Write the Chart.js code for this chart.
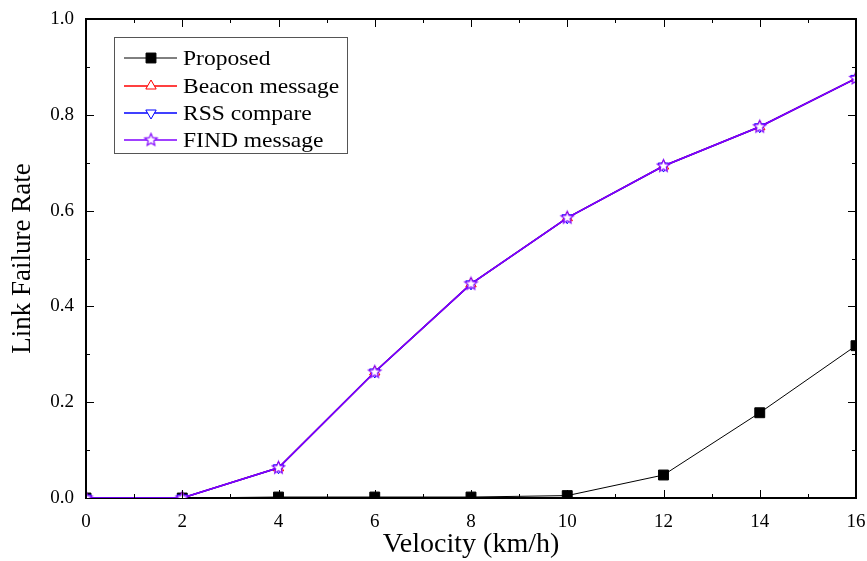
<!DOCTYPE html>
<html>
<head>
<meta charset="utf-8">
<script src="https://cdn.jsdelivr.net/npm/chart.js@4/dist/chart.umd.min.js"></script>
<style>
  html, body { margin: 0; padding: 0; background: #fff; }
  #wrap { width: 867px; height: 561px; }
</style>
</head>
<body>
<div id="wrap"><canvas id="chart" width="867" height="561"></canvas></div>
<script>
// data
const velocity = [0, 2, 4, 6, 8, 10, 12, 14, 16];
const proposed = [0, 0, 0.002, 0.002, 0.002, 0.005, 0.048, 0.178, 0.318];
const beacon   = [0, 0, 0.063, 0.263, 0.447, 0.585, 0.693, 0.775, 0.876];
const rss      = [0, 0, 0.063, 0.263, 0.447, 0.585, 0.693, 0.775, 0.876];
const findMsg  = [0, 0, 0.063, 0.263, 0.447, 0.585, 0.693, 0.775, 0.876];
const seriesNames = ['Proposed', 'Beacon message', 'RSS compare', 'FIND message'];

const FONT = "'Liberation Serif', 'Times New Roman', serif";
Chart.defaults.font.family = FONT;
Chart.defaults.color = '#000';

// 5-point open star used as marker
function makeStar(color, r) {
  const c = document.createElement('canvas');
  const s = Math.ceil(r * 2 + 4);
  c.width = s; c.height = s;
  const g = c.getContext('2d');
  g.beginPath();
  for (let i = 0; i < 10; i++) {
    const rad = i % 2 === 0 ? r : r * 0.45;
    const a = -Math.PI / 2 + i * Math.PI / 5;
    const px = s / 2 + rad * Math.cos(a);
    const py = s / 2 + rad * Math.sin(a);
    if (i === 0) g.moveTo(px, py); else g.lineTo(px, py);
  }
  g.closePath();
  g.fillStyle = '#fff';
  g.fill();
  g.strokeStyle = color;
  g.lineWidth = 1.2;
  g.stroke();
  return c;
}
const starImg = makeStar('#8000ff', 6.5);

function pts(arr) {
  return velocity.map((v, i) => ({ x: v, y: arr[i] }));
}

const datasets = [
  {
    label: seriesNames[0], data: pts(proposed),
    borderColor: '#000', backgroundColor: '#000', borderWidth: 1,
    pointStyle: 'rect', pointRadius: 7, pointBorderWidth: 1,
    pointBackgroundColor: '#000', order: 3
  },
  {
    label: seriesNames[1], data: pts(beacon),
    borderColor: '#ff0000', backgroundColor: '#fff', borderWidth: 1.5,
    pointStyle: 'triangle', pointRadius: 6, pointBorderWidth: 1,
    pointBackgroundColor: '#fff', order: 2
  },
  {
    label: seriesNames[2], data: pts(rss),
    borderColor: '#0000ff', backgroundColor: '#fff', borderWidth: 1.5,
    pointStyle: 'triangle', pointRotation: 180, pointRadius: 6, pointBorderWidth: 1,
    pointBackgroundColor: '#fff', order: 1
  },
  {
    label: seriesNames[3], data: pts(findMsg),
    borderColor: '#8000ff', backgroundColor: '#fff', borderWidth: 1.5,
    pointStyle: starImg, pointRadius: 6, order: 0
  }
];

// inward ticks on all four sides plus top/right frame
const frameTicks = {
  id: 'frameTicks',
  afterDraw(chart) {
    const { ctx, chartArea: a, scales } = chart;
    const xs = scales.x, ys = scales.y;
    ctx.save();
    ctx.strokeStyle = '#000';
    ctx.lineWidth = 2;
    ctx.beginPath();
    ctx.moveTo(a.left, a.top); ctx.lineTo(a.right, a.top); ctx.lineTo(a.right, a.bottom);
    ctx.stroke();
    ctx.lineWidth = 1;
    const major = 8, minor = 4;
    const xt = xs.ticks.map(t => t.value);
    const yt = ys.ticks.map(t => t.value);
    ctx.beginPath();
    xt.forEach((v, i) => {
      const px = Math.round(xs.getPixelForValue(v)) + 0.5;
      ctx.moveTo(px, a.bottom); ctx.lineTo(px, a.bottom - major);
      ctx.moveTo(px, a.top); ctx.lineTo(px, a.top + major);
      if (i < xt.length - 1) {
        const m = Math.round(xs.getPixelForValue((v + xt[i + 1]) / 2)) + 0.5;
        ctx.moveTo(m, a.bottom); ctx.lineTo(m, a.bottom - minor);
        ctx.moveTo(m, a.top); ctx.lineTo(m, a.top + minor);
      }
    });
    yt.forEach((v, i) => {
      const py = Math.round(ys.getPixelForValue(v)) + 0.5;
      ctx.moveTo(a.left, py); ctx.lineTo(a.left + major, py);
      ctx.moveTo(a.right, py); ctx.lineTo(a.right - major, py);
      if (i < yt.length - 1) {
        const m = Math.round(ys.getPixelForValue((v + yt[i + 1]) / 2)) + 0.5;
        ctx.moveTo(a.left, m); ctx.lineTo(a.left + minor, m);
        ctx.moveTo(a.right, m); ctx.lineTo(a.right - minor, m);
      }
    });
    ctx.stroke();
    ctx.restore();
  }
};

// boxed legend inside the plot, upper left
const boxLegend = {
  id: 'boxLegend',
  afterDraw(chart) {
    const ctx = chart.ctx;
    const bx = 114, by = 37, bw = 233, bh = 116;
    ctx.save();
    ctx.fillStyle = '#fff';
    ctx.fillRect(bx, by, bw, bh);
    ctx.strokeStyle = '#555';
    ctx.lineWidth = 1;
    ctx.strokeRect(bx + 0.5, by + 0.5, bw, bh);
    const rows = [58, 86, 113, 140];
    chart.data.datasets.forEach((ds, i) => {
      const y = rows[i];
      ctx.strokeStyle = ds.borderColor;
      ctx.lineWidth = ds.borderWidth;
      ctx.beginPath();
      ctx.moveTo(124, y); ctx.lineTo(177, y);
      ctx.stroke();
      ctx.fillStyle = ds.pointBackgroundColor || '#fff';
      ctx.strokeStyle = ds.borderColor;
      ctx.lineWidth = ds.pointBorderWidth || 1;
      Chart.helpers.drawPoint(ctx, {
        pointStyle: ds.pointStyle,
        radius: ds.pointRadius,
        rotation: ds.pointRotation || 0,
        borderWidth: ds.pointBorderWidth || 1
      }, 151, y);
      // the source text is a bit wider than plain Times
      ctx.save();
      ctx.translate(183, y + 1);
      ctx.scale(1.12, 1);
      ctx.fillStyle = '#000';
      ctx.font = '21px ' + FONT;
      ctx.textBaseline = 'middle';
      ctx.textAlign = 'left';
      ctx.fillText(ds.label, 0, 0);
      ctx.restore();
    });
    ctx.restore();
  }
};

new Chart(document.getElementById('chart'), {
  type: 'line',
  data: { datasets: datasets },
  options: {
    responsive: false,
    animation: false,
    clip: 0,
    layout: { padding: { top: 19, right: 11, left: 0, bottom: 0 } },
    plugins: { legend: { display: false }, tooltip: { enabled: false } },
    elements: { line: { tension: 0 } },
    scales: {
      x: {
        type: 'linear', min: 0, max: 16,
        ticks: { stepSize: 2, autoSkip: false, maxRotation: 0, padding: 13, font: { size: 19 } },
        grid: { display: false, drawTicks: false },
        border: { display: true, color: '#000', width: 2 },
        title: { display: true, text: 'Velocity (km/h)', font: { size: 28 }, padding: { top: 0, bottom: 0 } },
        afterFit(s) { s.height = 63; s.paddingLeft = 0; s.paddingRight = 0; }
      },
      y: {
        type: 'linear', min: 0, max: 1,
        ticks: { stepSize: 0.2, padding: 12, font: { size: 19 }, callback: v => v.toFixed(1) },
        grid: { display: false, drawTicks: false },
        border: { display: true, color: '#000', width: 2 },
        title: { display: true, text: 'Link Failure Rate', font: { size: 27 }, padding: { top: 7, bottom: 0 } },
        afterFit(s) { s.width = 86; s.paddingTop = 0; s.paddingBottom = 0; }
      }
    }
  },
  plugins: [frameTicks, boxLegend]
});
</script>
</body>
</html>
